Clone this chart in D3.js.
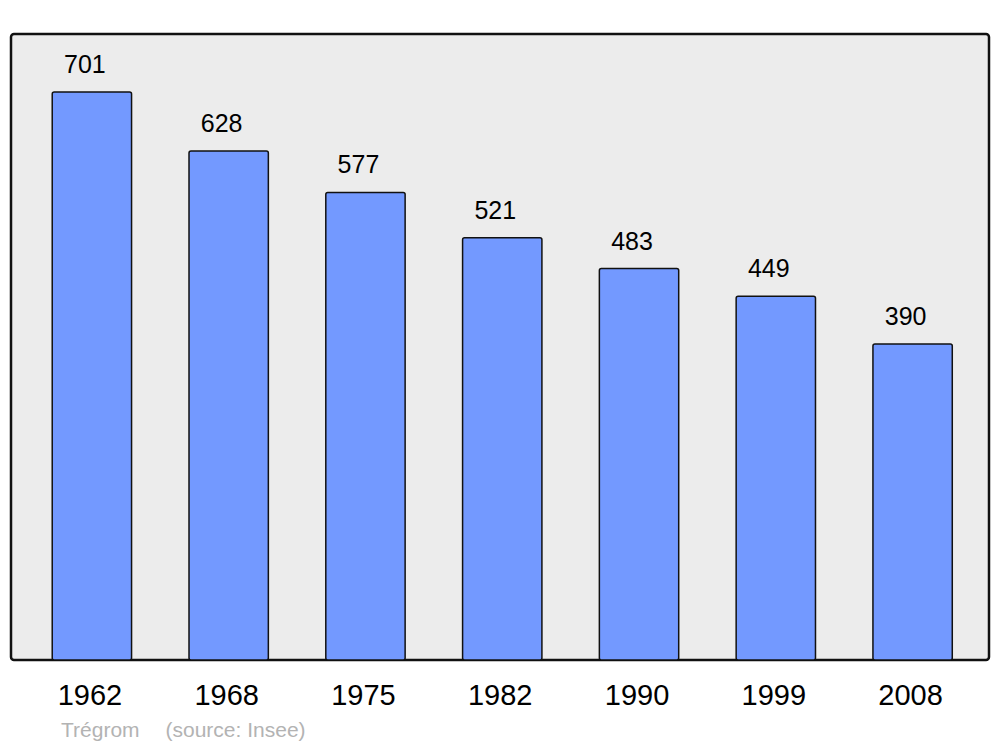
<!DOCTYPE html>
<html><head><meta charset="utf-8">
<script src="https://cdn.jsdelivr.net/npm/d3@7"></script>
<style>body{margin:0;background:#fff}svg{display:block}</style>
</head><body>
<script>
const years = ["1962","1968","1975","1982","1990","1999","2008"];
const population = [701,628,577,521,483,449,390];
const commune = "Trégrom";
const source = "(source: Insee)";

const W = 1000, H = 747;
const svg = d3.select("body").append("svg").attr("width", W).attr("height", H);
const frame = {x0: 11, x1: 989, y0: 34, y1: 660};

svg.append("rect").attr("x", frame.x0).attr("y", frame.y0)
  .attr("width", frame.x1 - frame.x0).attr("height", frame.y1 - frame.y0)
  .attr("rx", 3).attr("fill", "#ececec").attr("stroke", "#111").attr("stroke-width", 2.5);

const x = d3.scaleBand().domain(years).range([23.5, 981]).paddingInner(0.42).paddingOuter(0.21);
const y = d3.scaleLinear().domain([0, 772.5]).range([frame.y1, frame.y0]);

const data = years.map((yr, i) => ({yr, v: population[i]}));

svg.append("g").selectAll("rect").data(data).join("rect")
  .attr("x", d => x(d.yr)).attr("y", d => y(d.v))
  .attr("width", x.bandwidth()).attr("height", d => y(0) - y(d.v))
  .attr("rx", 2).attr("fill", "#7399ff").attr("stroke", "#111").attr("stroke-width", 1.5);

svg.append("g").selectAll("text").data(data).join("text")
  .attr("x", d => x(d.yr) + x.bandwidth() / 2 - 7).attr("y", d => y(d.v) - 19)
  .attr("text-anchor", "middle").attr("font-family", "Liberation Sans, Arial, sans-serif")
  .attr("font-size", 25).attr("fill", "#000").text(d => d.v);

svg.append("g").selectAll("text").data(years).join("text")
  .attr("x", d => x(d) + x.bandwidth() / 2 - 2).attr("y", 705)
  .attr("text-anchor", "middle").attr("font-family", "Liberation Sans, Arial, sans-serif")
  .attr("font-size", 29).attr("fill", "#000").text(d => d);

svg.append("text").attr("x", 61).attr("y", 737)
  .attr("font-family", "Liberation Sans, Arial, sans-serif").attr("font-size", 21)
  .attr("fill", "#b3b3b3").text(commune);
svg.append("text").attr("x", 165.5).attr("y", 737)
  .attr("font-family", "Liberation Sans, Arial, sans-serif").attr("font-size", 21)
  .attr("fill", "#b3b3b3").text(source);
</script>
</body></html>
